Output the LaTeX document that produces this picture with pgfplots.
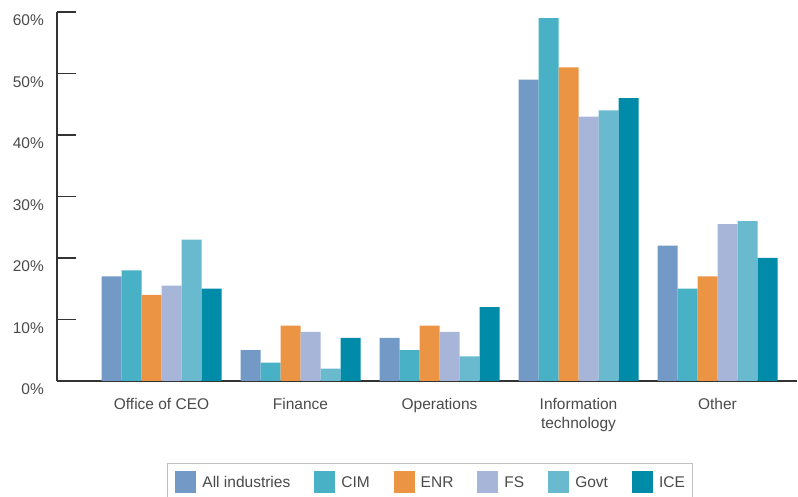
\documentclass[border=0pt]{standalone}
\usepackage{pgfplots}
\pgfplotsset{compat=1.18}
\usepackage{fontspec}
\setmainfont{Liberation Sans}
\definecolor{cAll}{HTML}{7399C6}
\definecolor{cCIM}{HTML}{48B1C6}
\definecolor{cENR}{HTML}{EA9444}
\definecolor{cFS}{HTML}{A7B5D9}
\definecolor{cGovt}{HTML}{69BACE}
\definecolor{cICE}{HTML}{008BA9}
\definecolor{txt}{HTML}{4A4A4A}
\definecolor{axc}{HTML}{333333}
\definecolor{lgc}{HTML}{C0C0C0}
\begin{document}
\begin{tikzpicture}
\path[use as bounding box] (-57pt,-116pt) rectangle (741pt,381pt);
\begin{axis}[
  scale only axis, width=740pt, height=369pt,
  xmin=-0.752, xmax=4.572, ymin=0, ymax=60,
  axis x line=bottom, axis y line=left,
  axis line style={-, draw=axc, line width=1.3pt},
  ybar=0pt, bar width=20pt,
  xtick={0,1,2,3,4},
  xticklabels={Office of CEO, Finance, Operations, {Information\\technology}, Other},
  xtick style={draw=none},
  ytick={0,10,20,30,40,50,60},
  yticklabels={0\%,10\%,20\%,30\%,40\%,50\%,60\%},
  ytick style={draw=axc, line width=1.3pt},
  major tick length=19pt, tick align=inside,
  tick label style={font=\fontsize{15.5}{18.8}\selectfont, text=txt},
  xticklabel style={align=center, inner sep=0pt, yshift=-17pt},
  yticklabel style={inner sep=0pt, xshift=-13pt, yshift=-8.5pt},
  legend columns=6,
  legend image code/.code={\path[#1] (0pt,-11pt) rectangle (21pt,11pt);},
  legend style={at={(0.1486,-0.2222)}, anchor=north west, draw=lgc, line width=1pt,
    inner xsep=8pt, inner ysep=8pt,
    nodes={inner sep=0pt, text=txt, font=\fontsize{15.5}{18.8}\selectfont},
    /tikz/every even column/.append style={column sep=24pt},
    /tikz/every odd column/.append style={column sep=6pt}},
]
\addplot[fill=cAll, draw=none] coordinates {(0,17) (1,5) (2,7) (3,49) (4,22)};
\addplot[fill=cCIM, draw=none] coordinates {(0,18) (1,3) (2,5) (3,59) (4,15)};
\addplot[fill=cENR, draw=none] coordinates {(0,14) (1,9) (2,9) (3,51) (4,17)};
\addplot[fill=cFS, draw=none] coordinates {(0,15.5) (1,8) (2,8) (3,43) (4,25.5)};
\addplot[fill=cGovt, draw=none] coordinates {(0,23) (1,2) (2,4) (3,44) (4,26)};
\addplot[fill=cICE, draw=none] coordinates {(0,15) (1,7) (2,12) (3,46) (4,20)};
\legend{All industries, CIM, ENR, FS, Govt, ICE}
\end{axis}
\end{tikzpicture}
\end{document}
